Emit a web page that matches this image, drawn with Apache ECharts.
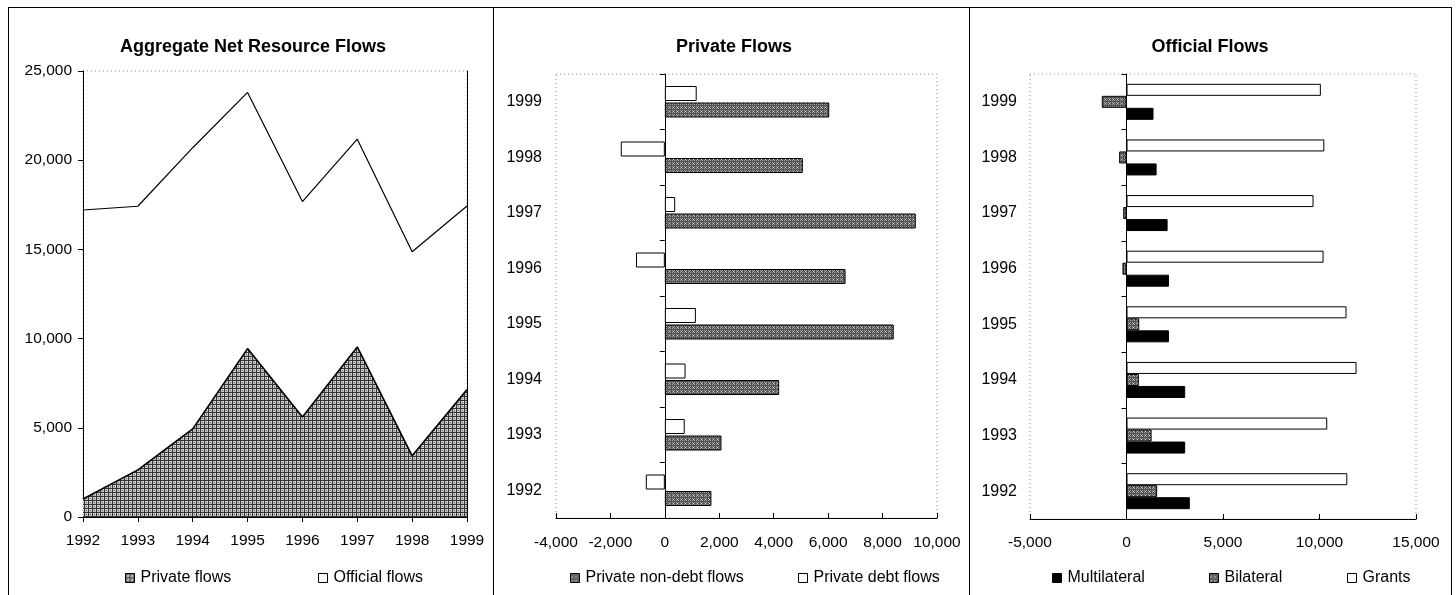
<!DOCTYPE html>
<html>
<head>
<meta charset="utf-8">
<title>Net Resource Flows</title>
<script src="https://cdn.jsdelivr.net/npm/echarts@6/dist/echarts.min.js"></script>
<style>
  html, body { margin: 0; padding: 0; background: #fff; }
  #chart { width: 1456px; height: 595px; }
</style>
</head>
<body>
<div id="chart"></div>
<script>
// ---- data (US$ millions) ----
const years = ['1992', '1993', '1994', '1995', '1996', '1997', '1998', '1999'];

// Aggregate net resource flows (stacked: private + official = total)
const privateFlows  = [1010, 2640, 4940, 9440, 5600, 9530, 3430, 7140];
const officialFlows = [16200, 14780, 15760, 14360, 12080, 11650, 11440, 10290];

// Private flows by type
const nonDebtFlows = [1710, 2080, 4200, 8410, 6640, 9220, 5070, 6040];
const debtFlows    = [-700, 730, 760, 1140, -1060, 380, -1620, 1170];

// Official flows by type
const multilateral = [3280, 3040, 3040, 2200, 2200, 2130, 1560, 1400];
const bilateral    = [1590, 1300, 640, 660, -210, -170, -380, -1280];
const grants       = [11440, 10400, 11920, 11400, 10210, 9690, 10250, 10070];

// axis ranges
const aggAxis      = { min: 0, max: 25000, interval: 5000 };
const privateAxis  = { min: -4000, max: 10000, interval: 2000 };
const officialAxis = { min: -5000, max: 15000, interval: 5000 };

// ---- fill textures ----
function crossHatch() {
  const c = document.createElement('canvas');
  c.width = 4; c.height = 4;
  const g = c.getContext('2d');
  g.fillStyle = '#c2c2c2'; g.fillRect(0, 0, 4, 4);
  g.fillStyle = '#333333';
  g.fillRect(0, 0, 4, 1);
  g.fillRect(0, 0, 1, 4);
  g.fillStyle = '#6e6e6e';
  g.fillRect(2, 2, 1, 1);
  g.fillStyle = '#ececec';
  g.fillRect(3, 1, 1, 1);
  return { image: c, repeat: 'repeat' };
}
function darkStipple() {
  const c = document.createElement('canvas');
  c.width = 4; c.height = 4;
  const g = c.getContext('2d');
  g.fillStyle = '#525252'; g.fillRect(0, 0, 4, 4);
  g.fillStyle = '#9c9c9c';
  g.fillRect(0, 0, 1, 1); g.fillRect(2, 2, 1, 1);
  g.fillRect(2, 0, 1, 1); g.fillRect(0, 2, 1, 1);
  g.fillStyle = '#e0e0e0';
  g.fillRect(1, 3, 1, 1);
  return { image: c, repeat: 'repeat' };
}
const hatchFill = crossHatch();
const stippleFill = darkStipple();

const FONT = '"Liberation Sans", Arial, Helvetica, sans-serif';
const labelStyle = { color: '#000', fontFamily: FONT, fontSize: 15.5 };
const catLabelStyle = { color: '#000', fontFamily: FONT, fontSize: 16 };
const blackLine = { lineStyle: { color: '#000', width: 1 } };

function legendItem(name, left, fill) {
  return {
    data: [name], left: left, top: 570, padding: 0, icon: 'rect',
    itemWidth: 9, itemHeight: 9, itemGap: 0, selectedMode: false,
    textStyle: { color: '#000', fontFamily: FONT, fontSize: 16, padding: [0, 0, 0, 1] },
    itemStyle: { color: fill, borderColor: '#000', borderWidth: 1 }
  };
}
function title(text, center) {
  return {
    text: text, left: center, top: 38, padding: 0, textAlign: 'center',
    textStyle: { color: '#000', fontFamily: FONT, fontSize: 18, fontWeight: 'bold' }
  };
}
const frame = { show: true, borderColor: '#8c8c8c', borderWidth: 1, borderType: [1, 3], backgroundColor: 'transparent' };
const thousands = v => v.toLocaleString('en-US');

const option = {
  animation: false,
  backgroundColor: '#fff',
  title: [
    title('Aggregate Net Resource Flows', 253),
    title('Private Flows', 734),
    title('Official Flows', 1210)
  ],
  legend: [
    legendItem('Private flows', 125, hatchFill),
    legendItem('Official flows', 318, '#fff'),
    legendItem('Private non-debt flows', 570, stippleFill),
    legendItem('Private debt flows', 798, '#fff'),
    legendItem('Multilateral', 1052, '#000'),
    legendItem('Bilateral', 1209, stippleFill),
    legendItem('Grants', 1347, '#fff')
  ],
  grid: [
    Object.assign({ left: 83, top: 71, width: 384, height: 446 }, frame),
    Object.assign({ left: 556, top: 74, width: 381, height: 444 }, frame),
    Object.assign({ left: 1030, top: 74, width: 386, height: 445 }, frame)
  ],
  xAxis: [
    {
      gridIndex: 0, type: 'category', data: years, boundaryGap: false,
      axisLine: blackLine, axisTick: { show: true, length: 5, lineStyle: { color: '#000' } },
      axisLabel: Object.assign({ margin: 16, interval: 0 }, labelStyle),
      splitLine: { show: false }
    },
    {
      gridIndex: 1, type: 'value', min: privateAxis.min, max: privateAxis.max, interval: privateAxis.interval,
      axisLine: Object.assign({ show: true, onZero: false }, blackLine),
      axisTick: { show: true, inside: true, length: 5, lineStyle: { color: '#000' } },
      axisLabel: Object.assign({ margin: 17, formatter: thousands }, labelStyle),
      splitLine: { show: false }
    },
    {
      gridIndex: 2, type: 'value', min: officialAxis.min, max: officialAxis.max, interval: officialAxis.interval,
      axisLine: Object.assign({ show: true, onZero: false }, blackLine),
      axisTick: { show: true, inside: true, length: 5, lineStyle: { color: '#000' } },
      axisLabel: Object.assign({ margin: 16, formatter: thousands }, labelStyle),
      splitLine: { show: false }
    }
  ],
  yAxis: [
    {
      gridIndex: 0, type: 'value', position: 'left', min: aggAxis.min, max: aggAxis.max, interval: aggAxis.interval,
      axisLine: Object.assign({ show: true }, blackLine),
      axisTick: { show: true, length: 5, lineStyle: { color: '#000' } },
      axisLabel: Object.assign({ margin: 11, formatter: thousands }, labelStyle),
      splitLine: { show: false }
    },
    {
      gridIndex: 0, type: 'value', position: 'right', min: aggAxis.min, max: aggAxis.max, interval: aggAxis.interval,
      axisLine: Object.assign({ show: true }, blackLine),
      axisTick: { show: false }, axisLabel: { show: false }, splitLine: { show: false }
    },
    {
      gridIndex: 1, type: 'category', data: years, position: 'left',
      axisLine: { show: false, onZero: false }, axisTick: { show: false },
      axisLabel: Object.assign({ margin: 14 }, catLabelStyle)
    },
    {
      gridIndex: 1, type: 'category', data: years, position: 'left',
      axisLine: Object.assign({ show: true, onZero: true }, blackLine),
      axisTick: { show: true, length: 5, lineStyle: { color: '#000' } },
      axisLabel: { show: false }
    },
    {
      gridIndex: 2, type: 'category', data: years, position: 'left',
      axisLine: { show: false, onZero: false }, axisTick: { show: false },
      axisLabel: Object.assign({ margin: 13 }, catLabelStyle)
    },
    {
      gridIndex: 2, type: 'category', data: years, position: 'left',
      axisLine: Object.assign({ show: true, onZero: true }, blackLine),
      axisTick: { show: true, length: 5, lineStyle: { color: '#000' } },
      axisLabel: { show: false }
    }
  ],
  // horizontal bars stack top-to-bottom in series order within each year
  series: [
    {
      name: 'Private flows', type: 'line', xAxisIndex: 0, yAxisIndex: 0, stack: 'aggregate',
      data: privateFlows, symbol: 'none',
      lineStyle: { color: '#000', width: 1.6 },
      itemStyle: { color: hatchFill },
      areaStyle: { color: hatchFill, opacity: 1 }
    },
    {
      name: 'Official flows', type: 'line', xAxisIndex: 0, yAxisIndex: 0, stack: 'aggregate',
      data: officialFlows, symbol: 'none',
      lineStyle: { color: '#000', width: 1.2 },
      itemStyle: { color: '#fff' }
    },
    {
      name: 'Private debt flows', type: 'bar', xAxisIndex: 1, yAxisIndex: 2,
      data: debtFlows, barWidth: 15, barGap: '10%',
      itemStyle: { color: '#fff', borderColor: '#000', borderWidth: 1 }
    },
    {
      name: 'Private non-debt flows', type: 'bar', xAxisIndex: 1, yAxisIndex: 2,
      data: nonDebtFlows, barWidth: 15, barGap: '10%',
      itemStyle: { color: stippleFill, borderColor: '#000', borderWidth: 1 }
    },
    {
      name: 'Grants', type: 'bar', xAxisIndex: 2, yAxisIndex: 4,
      data: grants, barWidth: 12, barGap: '0%',
      itemStyle: { color: '#fff', borderColor: '#000', borderWidth: 1 }
    },
    {
      name: 'Bilateral', type: 'bar', xAxisIndex: 2, yAxisIndex: 4,
      data: bilateral, barWidth: 12, barGap: '0%',
      itemStyle: { color: stippleFill, borderColor: '#000', borderWidth: 1 }
    },
    {
      name: 'Multilateral', type: 'bar', xAxisIndex: 2, yAxisIndex: 4,
      data: multilateral, barWidth: 12, barGap: '0%',
      itemStyle: { color: '#000', borderColor: '#000', borderWidth: 1 }
    }
  ],
  // panel frames around the three charts
  graphic: [
    { type: 'line', shape: { x1: 8, y1: 7.5, x2: 1452, y2: 7.5 }, style: { stroke: '#000', lineWidth: 1 } },
    { type: 'line', shape: { x1: 8.5, y1: 7, x2: 8.5, y2: 595 }, style: { stroke: '#000', lineWidth: 1 } },
    { type: 'line', shape: { x1: 493.5, y1: 7, x2: 493.5, y2: 595 }, style: { stroke: '#000', lineWidth: 1 } },
    { type: 'line', shape: { x1: 969.5, y1: 7, x2: 969.5, y2: 595 }, style: { stroke: '#000', lineWidth: 1 } },
    { type: 'line', shape: { x1: 1451.5, y1: 7, x2: 1451.5, y2: 595 }, style: { stroke: '#000', lineWidth: 1 } }
  ]
};

const chart = echarts.init(document.getElementById('chart'), null, { renderer: 'canvas' });
chart.setOption(option);
</script>
</body>
</html>
